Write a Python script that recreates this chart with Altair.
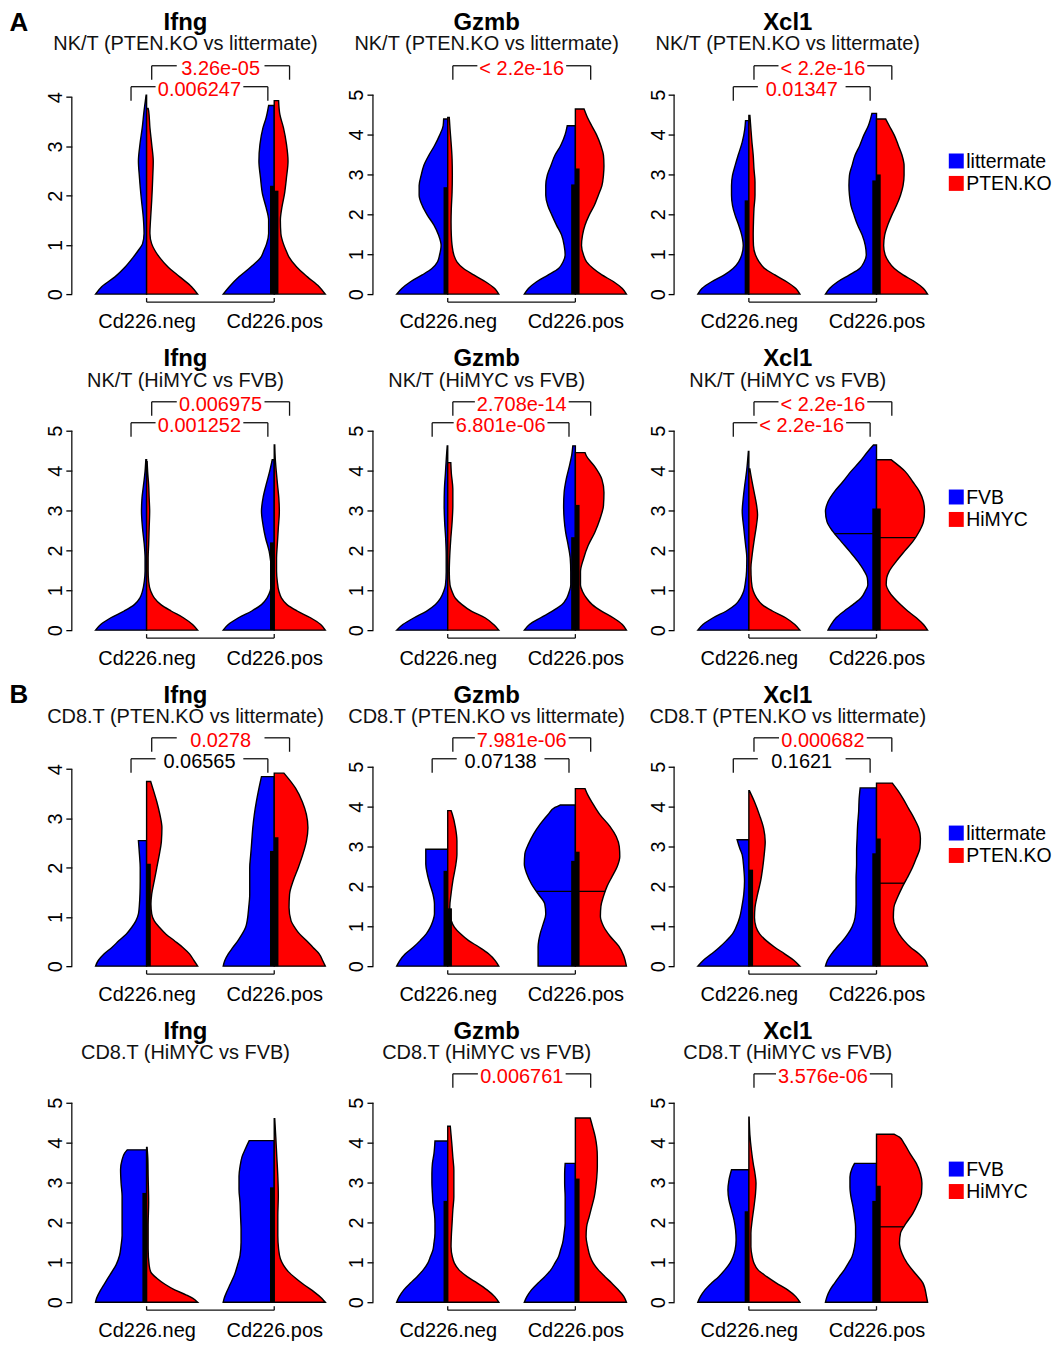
import altair as alt
import pandas as pd
import numpy as np

FONT = "Liberation Sans"
BLUE, RED = "#0000FF", "#FF0000"

GROUP_LABELS = ["Cd226.neg", "Cd226.pos"]
GROUP_POS = [1, 2]
GENES = ["Ifng", "Gzmb", "Xcl1"]
SUBTITLES = ["NK/T (PTEN.KO vs littermate)", "NK/T (HiMYC vs FVB)",
             "CD8.T (PTEN.KO vs littermate)", "CD8.T (HiMYC vs FVB)"]
LEGEND_LABELS = [["littermate", "PTEN.KO"], ["FVB", "HiMYC"],
                 ["littermate", "PTEN.KO"], ["FVB", "HiMYC"]]
PANEL_TAGS = ["A", None, "B", None]
Y_MAX = [[4.05, 5, 5], [5, 5, 5], [4.05, 5, 5], [5, 5, 5]]
Y_TICK_TOP = [[4, 5, 5], [5, 5, 5], [4, 5, 5], [5, 5, 5]]
P_UPPER = [["3.26e-05", "< 2.2e-16", "< 2.2e-16"],
           ["0.006975", "2.708e-14", "< 2.2e-16"],
           ["0.0278", "7.981e-06", "0.000682"],
           [None, "0.006761", "3.576e-06"]]
P_LOWER = [["0.006247", None, "0.01347"],
           ["0.001252", "6.801e-06", "< 2.2e-16"],
           ["0.06565", "0.07138", "0.1621"],
           [None, None, None]]

# violin half profiles: (expression level, relative half width)
IFNG_NK_PTEN = dict(
    negL=[(0, 1.0), (0.15, 0.88), (0.35, 0.62), (0.55, 0.42), (0.75, 0.26), (0.89, 0.16), (1.02, 0.08), (1.23, 0.05), (1.56, 0.065), (1.9, 0.1), (2.37, 0.14), (2.7, 0.16), (3.04, 0.13), (3.38, 0.085), (3.72, 0.05), (3.92, 0.025), (4.04, 0.01)],
    negR=[(0, 1.0), (0.15, 0.88), (0.35, 0.65), (0.55, 0.42), (0.75, 0.25), (0.89, 0.16), (1.02, 0.1), (1.23, 0.065), (1.56, 0.08), (1.9, 0.1), (2.37, 0.12), (2.7, 0.13), (3.04, 0.1), (3.38, 0.065), (3.72, 0.04), (3.77, 0.03)],
    posL=[(0, 1.0), (0.15, 0.88), (0.35, 0.69), (0.55, 0.46), (0.75, 0.26), (0.89, 0.2), (1.02, 0.15), (1.23, 0.11), (1.5, 0.11), (1.76, 0.16), (2.03, 0.23), (2.37, 0.27), (2.7, 0.3), (3.04, 0.28), (3.38, 0.22), (3.58, 0.16), (3.83, 0.11)],
    posR=[(0, 1.0), (0.15, 0.88), (0.35, 0.65), (0.55, 0.44), (0.75, 0.29), (0.89, 0.23), (1.02, 0.18), (1.23, 0.13), (1.5, 0.12), (1.76, 0.15), (2.03, 0.2), (2.37, 0.24), (2.7, 0.27), (3.04, 0.24), (3.38, 0.18), (3.65, 0.11), (3.93, 0.085)],
)
GZMB_NK_PTEN = dict(
    negL=[(0, 1.0), (0.14, 0.9), (0.31, 0.73), (0.48, 0.5), (0.64, 0.31), (0.81, 0.2), (0.98, 0.16), (1.22, 0.13), (1.48, 0.18), (1.73, 0.27), (1.98, 0.4), (2.22, 0.5), (2.48, 0.56), (2.72, 0.56), (2.98, 0.52), (3.22, 0.47), (3.48, 0.37), (3.72, 0.26), (3.98, 0.16), (4.22, 0.09), (4.39, 0.08)],
    negR=[(0, 1.0), (0.14, 0.92), (0.31, 0.74), (0.48, 0.51), (0.64, 0.31), (0.81, 0.18), (0.98, 0.12), (1.22, 0.085), (1.48, 0.07), (1.81, 0.065), (2.14, 0.07), (2.56, 0.085), (2.98, 0.09), (3.39, 0.085), (3.81, 0.065), (4.14, 0.045), (4.43, 0.03)],
    posL=[(0, 1.0), (0.14, 0.92), (0.31, 0.76), (0.48, 0.53), (0.64, 0.33), (0.81, 0.24), (0.98, 0.2), (1.22, 0.22), (1.48, 0.27), (1.73, 0.37), (1.98, 0.46), (2.22, 0.54), (2.48, 0.58), (2.72, 0.58), (2.98, 0.55), (3.22, 0.48), (3.48, 0.4), (3.72, 0.29), (4.0, 0.2), (4.22, 0.16)],
    posR=[(0, 1.0), (0.14, 0.92), (0.31, 0.75), (0.48, 0.52), (0.64, 0.35), (0.81, 0.22), (0.98, 0.16), (1.22, 0.12), (1.48, 0.14), (1.73, 0.19), (1.98, 0.27), (2.22, 0.37), (2.48, 0.45), (2.72, 0.52), (2.98, 0.55), (3.22, 0.56), (3.48, 0.55), (3.72, 0.5), (3.98, 0.42), (4.22, 0.32), (4.48, 0.22), (4.64, 0.17)],
)
XCL1_NK_PTEN = dict(
    negL=[(0, 1.0), (0.14, 0.92), (0.31, 0.73), (0.48, 0.48), (0.64, 0.31), (0.81, 0.2), (0.98, 0.14), (1.22, 0.11), (1.48, 0.14), (1.73, 0.2), (1.98, 0.27), (2.22, 0.32), (2.48, 0.34), (2.72, 0.34), (2.98, 0.32), (3.22, 0.27), (3.48, 0.21), (3.81, 0.13), (4.14, 0.08), (4.35, 0.065)],
    negR=[(0, 1.0), (0.14, 0.92), (0.31, 0.74), (0.48, 0.51), (0.64, 0.31), (0.81, 0.2), (0.98, 0.13), (1.22, 0.09), (1.48, 0.085), (1.81, 0.09), (2.14, 0.1), (2.48, 0.12), (2.81, 0.12), (3.14, 0.1), (3.48, 0.085), (3.81, 0.06), (4.14, 0.04), (4.48, 0.02)],
    posL=[(0, 1.0), (0.14, 0.92), (0.31, 0.76), (0.48, 0.53), (0.64, 0.33), (0.81, 0.24), (0.98, 0.2), (1.22, 0.22), (1.48, 0.28), (1.73, 0.37), (1.98, 0.44), (2.22, 0.5), (2.48, 0.53), (2.72, 0.54), (2.98, 0.53), (3.22, 0.48), (3.48, 0.42), (3.72, 0.33), (3.98, 0.25), (4.22, 0.16), (4.53, 0.09)],
    posR=[(0, 1.0), (0.14, 0.92), (0.31, 0.75), (0.48, 0.52), (0.64, 0.35), (0.81, 0.24), (0.98, 0.17), (1.22, 0.14), (1.48, 0.16), (1.73, 0.22), (1.98, 0.3), (2.22, 0.39), (2.48, 0.47), (2.72, 0.52), (2.98, 0.54), (3.22, 0.54), (3.48, 0.5), (3.72, 0.43), (3.98, 0.35), (4.22, 0.25), (4.39, 0.18)],
)
IFNG_NK_MYC = dict(
    negL=[(0, 1.0), (0.14, 0.9), (0.31, 0.7), (0.48, 0.44), (0.64, 0.24), (0.81, 0.13), (0.98, 0.08), (1.22, 0.045), (1.48, 0.03), (1.81, 0.03), (2.14, 0.045), (2.56, 0.08), (2.98, 0.1), (3.31, 0.09), (3.64, 0.06), (3.98, 0.03), (4.27, 0.015)],
    negR=[(0, 1.0), (0.14, 0.9), (0.31, 0.72), (0.48, 0.48), (0.64, 0.28), (0.81, 0.15), (0.98, 0.08), (1.22, 0.04), (1.48, 0.03), (1.81, 0.03), (2.14, 0.04), (2.56, 0.05), (2.98, 0.06), (3.31, 0.05), (3.64, 0.04), (3.98, 0.02), (4.22, 0.01)],
    posL=[(0, 1.0), (0.14, 0.9), (0.31, 0.7), (0.48, 0.44), (0.64, 0.25), (0.81, 0.14), (0.98, 0.08), (1.22, 0.05), (1.48, 0.05), (1.73, 0.07), (1.98, 0.1), (2.31, 0.17), (2.64, 0.22), (2.98, 0.25), (3.31, 0.22), (3.64, 0.16), (3.98, 0.09), (4.27, 0.04)],
    posR=[(0, 1.0), (0.14, 0.91), (0.31, 0.71), (0.48, 0.45), (0.64, 0.25), (0.81, 0.14), (0.98, 0.09), (1.22, 0.06), (1.48, 0.045), (1.81, 0.045), (2.14, 0.06), (2.56, 0.08), (2.98, 0.1), (3.31, 0.09), (3.64, 0.065), (3.98, 0.04), (4.3, 0.02), (4.64, 0.01)],
)
GZMB_NK_MYC = dict(
    negL=[(0, 1.0), (0.14, 0.88), (0.31, 0.66), (0.47, 0.42), (0.64, 0.24), (0.8, 0.14), (0.97, 0.08), (1.13, 0.045), (1.46, 0.03), (1.88, 0.03), (2.29, 0.04), (2.7, 0.06), (3.12, 0.07), (3.53, 0.065), (3.94, 0.045), (4.36, 0.025), (4.62, 0.01)],
    negR=[(0, 1.0), (0.14, 0.9), (0.31, 0.73), (0.47, 0.47), (0.64, 0.28), (0.8, 0.15), (0.97, 0.085), (1.13, 0.045), (1.46, 0.03), (1.88, 0.04), (2.29, 0.06), (2.7, 0.085), (3.12, 0.1), (3.53, 0.1), (3.94, 0.07), (4.2, 0.06)],
    posL=[(0, 1.0), (0.14, 0.9), (0.31, 0.68), (0.47, 0.46), (0.64, 0.26), (0.8, 0.17), (0.97, 0.12), (1.13, 0.09), (1.46, 0.09), (1.79, 0.1), (2.12, 0.14), (2.45, 0.19), (2.78, 0.22), (3.12, 0.23), (3.45, 0.22), (3.78, 0.18), (4.1, 0.12), (4.4, 0.07), (4.62, 0.05)],
    posR=[(0, 1.0), (0.14, 0.92), (0.31, 0.74), (0.47, 0.52), (0.64, 0.33), (0.8, 0.22), (0.97, 0.14), (1.13, 0.1), (1.46, 0.1), (1.79, 0.16), (2.12, 0.25), (2.45, 0.38), (2.78, 0.48), (3.12, 0.55), (3.45, 0.56), (3.78, 0.52), (4.1, 0.38), (4.36, 0.22), (4.45, 0.19)],
)
XCL1_NK_MYC = dict(
    negL=[(0, 1.0), (0.14, 0.9), (0.31, 0.7), (0.48, 0.44), (0.64, 0.26), (0.81, 0.16), (0.98, 0.1), (1.22, 0.065), (1.48, 0.045), (1.81, 0.04), (2.14, 0.065), (2.56, 0.1), (2.98, 0.13), (3.31, 0.11), (3.64, 0.08), (3.98, 0.045), (4.48, 0.01)],
    negR=[(0, 1.0), (0.14, 0.9), (0.31, 0.72), (0.48, 0.46), (0.64, 0.26), (0.81, 0.15), (0.98, 0.085), (1.22, 0.05), (1.56, 0.04), (1.89, 0.065), (2.22, 0.1), (2.64, 0.15), (2.89, 0.17), (3.14, 0.15), (3.48, 0.1), (3.81, 0.05), (4.04, 0.02)],
    posL=[(0, 0.95), (0.14, 0.89), (0.31, 0.79), (0.48, 0.63), (0.64, 0.46), (0.81, 0.3), (0.98, 0.22), (1.14, 0.17), (1.31, 0.18), (1.48, 0.24), (1.73, 0.37), (1.98, 0.53), (2.22, 0.69), (2.48, 0.86), (2.72, 0.97), (2.98, 1.0), (3.22, 0.95), (3.48, 0.82), (3.72, 0.66), (3.98, 0.5), (4.22, 0.33), (4.48, 0.17), (4.64, 0.06)],
    posR=[(0, 1.0), (0.14, 0.92), (0.31, 0.78), (0.48, 0.61), (0.64, 0.47), (0.81, 0.34), (0.98, 0.24), (1.14, 0.19), (1.31, 0.2), (1.48, 0.25), (1.73, 0.39), (1.98, 0.55), (2.22, 0.71), (2.48, 0.84), (2.72, 0.92), (2.98, 0.94), (3.22, 0.92), (3.48, 0.84), (3.72, 0.71), (3.98, 0.56), (4.27, 0.29)],
)
IFNG_CD8_PTEN = dict(
    negL=[(0, 1.0), (0.11, 0.95), (0.25, 0.83), (0.38, 0.68), (0.52, 0.54), (0.65, 0.4), (0.79, 0.29), (0.92, 0.21), (1.06, 0.16), (1.26, 0.14), (1.46, 0.13), (1.73, 0.125), (2.0, 0.125), (2.27, 0.14), (2.55, 0.16)],
    negR=[(0, 1.0), (0.11, 0.93), (0.25, 0.84), (0.38, 0.71), (0.52, 0.54), (0.65, 0.38), (0.79, 0.25), (0.92, 0.15), (1.06, 0.1), (1.26, 0.085), (1.46, 0.1), (1.73, 0.15), (2.0, 0.2), (2.27, 0.25), (2.54, 0.29), (2.81, 0.3), (3.08, 0.26), (3.34, 0.2), (3.55, 0.14), (3.75, 0.08)],
    posL=[(0, 1.0), (0.11, 0.97), (0.25, 0.9), (0.38, 0.81), (0.52, 0.71), (0.65, 0.63), (0.79, 0.56), (0.92, 0.53), (1.19, 0.5), (1.46, 0.48), (1.73, 0.48), (2.0, 0.48), (2.27, 0.46), (2.54, 0.44), (2.81, 0.42), (3.08, 0.39), (3.34, 0.35), (3.61, 0.3), (3.85, 0.25)],
    posR=[(0, 1.0), (0.11, 0.95), (0.25, 0.88), (0.38, 0.76), (0.52, 0.63), (0.65, 0.5), (0.79, 0.4), (0.92, 0.33), (1.19, 0.29), (1.46, 0.3), (1.73, 0.37), (2.0, 0.47), (2.27, 0.56), (2.54, 0.63), (2.81, 0.66), (3.08, 0.63), (3.34, 0.55), (3.61, 0.42), (3.92, 0.19)],
)
GZMB_CD8_PTEN = dict(
    negL=[(0, 1.0), (0.14, 0.94), (0.31, 0.83), (0.48, 0.67), (0.64, 0.54), (0.81, 0.42), (0.98, 0.34), (1.14, 0.29), (1.31, 0.26), (1.56, 0.26), (1.81, 0.29), (2.06, 0.35), (2.31, 0.4), (2.56, 0.43), (2.81, 0.43), (2.93, 0.43)],
    negR=[(0, 1.0), (0.14, 0.93), (0.31, 0.8), (0.48, 0.61), (0.64, 0.41), (0.81, 0.25), (0.98, 0.13), (1.14, 0.07), (1.31, 0.045), (1.48, 0.04), (1.81, 0.065), (2.14, 0.1), (2.48, 0.15), (2.81, 0.18), (3.14, 0.18), (3.48, 0.15), (3.81, 0.09), (3.9, 0.065)],
    posL=[(0, 0.73), (0.48, 0.73), (0.81, 0.69), (1.06, 0.63), (1.31, 0.58), (1.56, 0.6), (1.81, 0.73), (2.06, 0.86), (2.31, 0.95), (2.56, 1.0), (2.81, 0.99), (3.06, 0.92), (3.31, 0.82), (3.56, 0.69), (3.81, 0.53), (3.98, 0.4), (4.04, 0.3)],
    posR=[(0, 1.0), (0.25, 0.95), (0.5, 0.85), (0.75, 0.68), (1.0, 0.55), (1.25, 0.49), (1.5, 0.5), (1.75, 0.55), (2.0, 0.62), (2.25, 0.72), (2.5, 0.82), (2.75, 0.87), (3.0, 0.86), (3.25, 0.8), (3.5, 0.68), (3.8, 0.48), (4.1, 0.33), (4.3, 0.24), (4.45, 0.19)],
)
XCL1_CD8_PTEN = dict(
    negL=[(0, 1.0), (0.15, 0.89), (0.31, 0.73), (0.48, 0.57), (0.64, 0.44), (0.81, 0.32), (0.98, 0.25), (1.22, 0.18), (1.47, 0.14), (1.8, 0.1), (2.13, 0.085), (2.46, 0.1), (2.79, 0.13), (2.96, 0.18), (3.17, 0.23)],
    negR=[(0, 1.0), (0.15, 0.88), (0.31, 0.7), (0.48, 0.5), (0.64, 0.34), (0.81, 0.21), (0.98, 0.14), (1.22, 0.11), (1.47, 0.12), (1.8, 0.17), (2.13, 0.23), (2.46, 0.27), (2.79, 0.3), (3.12, 0.32), (3.45, 0.29), (3.78, 0.21), (4.12, 0.11), (4.4, 0.01)],
    posL=[(0, 1.0), (0.15, 0.96), (0.31, 0.88), (0.48, 0.77), (0.64, 0.66), (0.81, 0.56), (0.98, 0.48), (1.22, 0.42), (1.55, 0.4), (1.88, 0.4), (2.21, 0.4), (2.55, 0.39), (2.88, 0.39), (3.21, 0.38), (3.54, 0.37), (3.87, 0.35), (4.2, 0.34), (4.47, 0.32)],
    posR=[(0, 1.0), (0.15, 0.95), (0.31, 0.83), (0.48, 0.66), (0.64, 0.54), (0.81, 0.44), (0.98, 0.37), (1.22, 0.33), (1.47, 0.34), (1.72, 0.41), (1.97, 0.5), (2.21, 0.6), (2.46, 0.7), (2.71, 0.78), (2.96, 0.85), (3.21, 0.86), (3.45, 0.83), (3.7, 0.74), (3.95, 0.63), (4.2, 0.52), (4.4, 0.42), (4.59, 0.31)],
)
IFNG_CD8_MYC = dict(
    negL=[(0, 1.0), (0.1, 0.98), (0.26, 0.92), (0.43, 0.84), (0.68, 0.72), (0.93, 0.6), (1.17, 0.53), (1.42, 0.5), (1.67, 0.48), (2.0, 0.48), (2.33, 0.48), (2.66, 0.48), (2.99, 0.5), (3.32, 0.51), (3.57, 0.48), (3.74, 0.43), (3.82, 0.38)],
    negR=[(0, 1.0), (0.1, 0.9), (0.18, 0.78), (0.31, 0.55), (0.45, 0.36), (0.6, 0.2), (0.76, 0.08), (0.93, 0.05), (1.34, 0.03), (1.92, 0.03), (2.5, 0.04), (3.16, 0.03), (3.57, 0.025), (3.88, 0.01)],
    posL=[(0, 1.0), (0.1, 0.98), (0.26, 0.93), (0.43, 0.87), (0.68, 0.78), (0.93, 0.72), (1.17, 0.67), (1.5, 0.65), (1.83, 0.65), (2.17, 0.66), (2.5, 0.67), (2.83, 0.69), (3.16, 0.69), (3.4, 0.67), (3.65, 0.63), (3.86, 0.56), (4.05, 0.49)],
    posR=[(0, 1.0), (0.1, 0.93), (0.26, 0.78), (0.43, 0.59), (0.6, 0.42), (0.76, 0.28), (0.93, 0.18), (1.09, 0.12), (1.34, 0.085), (1.67, 0.07), (2.17, 0.07), (2.66, 0.08), (3.16, 0.07), (3.65, 0.05), (4.15, 0.03), (4.6, 0.01)],
)
GZMB_CD8_MYC = dict(
    negL=[(0, 1.0), (0.14, 0.95), (0.31, 0.86), (0.48, 0.73), (0.64, 0.6), (0.81, 0.48), (0.98, 0.39), (1.14, 0.34), (1.31, 0.29), (1.48, 0.27), (1.73, 0.25), (1.98, 0.25), (2.22, 0.26), (2.48, 0.29), (2.72, 0.3), (2.98, 0.31), (3.22, 0.31), (3.48, 0.3), (3.72, 0.27), (4.04, 0.25)],
    negR=[(0, 1.0), (0.14, 0.92), (0.31, 0.77), (0.48, 0.58), (0.64, 0.38), (0.81, 0.22), (0.98, 0.13), (1.14, 0.09), (1.39, 0.065), (1.64, 0.07), (1.98, 0.085), (2.31, 0.1), (2.64, 0.12), (2.98, 0.12), (3.31, 0.12), (3.64, 0.1), (3.98, 0.08), (4.41, 0.05)],
    posL=[(0, 1.0), (0.14, 0.95), (0.31, 0.86), (0.48, 0.73), (0.64, 0.6), (0.81, 0.48), (0.98, 0.4), (1.14, 0.33), (1.31, 0.29), (1.48, 0.25), (1.73, 0.22), (1.98, 0.2), (2.31, 0.2), (2.64, 0.2), (2.98, 0.21), (3.22, 0.21), (3.48, 0.2)],
    posR=[(0, 1.0), (0.14, 0.95), (0.31, 0.84), (0.48, 0.71), (0.64, 0.58), (0.81, 0.45), (0.98, 0.35), (1.14, 0.29), (1.39, 0.24), (1.64, 0.21), (1.89, 0.22), (2.14, 0.27), (2.39, 0.32), (2.64, 0.37), (2.89, 0.4), (3.14, 0.42), (3.39, 0.43), (3.64, 0.43), (3.89, 0.42), (4.14, 0.39), (4.39, 0.34), (4.62, 0.29)],
)
XCL1_CD8_MYC = dict(
    negL=[(0, 1.0), (0.14, 0.95), (0.31, 0.86), (0.48, 0.73), (0.64, 0.59), (0.81, 0.47), (0.98, 0.37), (1.14, 0.31), (1.31, 0.27), (1.56, 0.25), (1.81, 0.26), (2.06, 0.29), (2.31, 0.34), (2.56, 0.39), (2.81, 0.41), (3.06, 0.39), (3.32, 0.34)],
    negR=[(0, 1.0), (0.14, 0.92), (0.31, 0.76), (0.48, 0.54), (0.64, 0.35), (0.81, 0.18), (0.98, 0.1), (1.14, 0.065), (1.39, 0.04), (1.73, 0.04), (2.06, 0.065), (2.39, 0.1), (2.72, 0.13), (2.98, 0.14), (3.22, 0.12), (3.48, 0.085), (3.81, 0.05), (4.2, 0.02), (4.64, 0.005)],
    posL=[(0, 1.0), (0.14, 0.97), (0.31, 0.91), (0.48, 0.82), (0.64, 0.73), (0.81, 0.63), (0.98, 0.55), (1.14, 0.48), (1.39, 0.43), (1.64, 0.41), (1.89, 0.41), (2.14, 0.43), (2.39, 0.46), (2.64, 0.5), (2.89, 0.52), (3.14, 0.52), (3.35, 0.48), (3.48, 0.43)],
    posR=[(0, 1.0), (0.14, 0.98), (0.48, 0.91), (0.72, 0.76), (0.98, 0.6), (1.22, 0.5), (1.48, 0.45), (1.73, 0.47), (1.98, 0.58), (2.22, 0.71), (2.48, 0.81), (2.72, 0.88), (2.98, 0.89), (3.22, 0.86), (3.48, 0.78), (3.72, 0.66), (3.98, 0.54), (4.14, 0.45), (4.21, 0.35)],
)
PANELS = [[IFNG_NK_PTEN, GZMB_NK_PTEN, XCL1_NK_PTEN],
          [IFNG_NK_MYC, GZMB_NK_MYC, XCL1_NK_MYC],
          [IFNG_CD8_PTEN, GZMB_CD8_PTEN, XCL1_CD8_PTEN],
          [IFNG_CD8_MYC, GZMB_CD8_MYC, XCL1_CD8_MYC]]

# upper quartile of the black box per half: negL, negR, posL, posR
BOX_Q3 = [[[0, 0, 2.2, 2.1], [2.68, 0, 2.75, 3.15], [2.35, 0, 2.85, 3.0]],
          [[0, 0, 2.2, 0], [0, 0, 2.33, 3.14], [0, 0, 3.05, 3.05]],
          [[0, 2.08, 2.34, 2.62], [2.39, 1.45, 2.64, 2.87], [0, 2.42, 2.83, 3.2]],
          [[2.74, 0, 2.88, 0], [2.54, 0, 0, 3.1], [2.28, 0, 2.54, 2.92]]]
MEDIANS = {(1, 2): [("posL", 2.42), ("posR", 2.32)],
           (2, 1): [("posL", 1.875), ("posR", 1.875)],
           (2, 2): [("posR", 2.08)],
           (3, 2): [("posR", 1.89)]}

# ---------------- geometry / style ----------------
W, H = 228, 216
XDOM = [0.4141, 2.1953]
HALF_MAX = 0.4
BOX_W = 0.033
UPPER_X = (1.04, 2.12)
LOWER_X = (0.878, 1.95)
AW = {'.': .278, '-': .333, '<': .584, ' ': .278, 'e': .556}


def text_px(s, fs=20):
    return sum(AW.get(ch, .556) for ch in s) * fs


def is_sig(s):
    return float(s.replace('<', '').strip()) < 0.05


label_expr = "datum.value == 1 ? '%s' : '%s'" % (GROUP_LABELS[0], GROUP_LABELS[1])


def panel(r, c):
    M = Y_MAX[r][c]
    ydom = [-0.04 * M, 1.04 * M]
    ky = H / (ydom[1] - ydom[0])
    kx = W / (XDOM[1] - XDOM[0])
    xs = alt.Scale(domain=XDOM, nice=False, zero=False)
    ys = alt.Scale(domain=ydom, nice=False, zero=False)
    xa = alt.Axis(values=GROUP_POS, labelExpr=label_expr, domain=False, ticks=False,
                  labelFontSize=20, labelFont=FONT, labelColor="black", labelPadding=10,
                  labelBaseline="top", labelAlign="center", grid=False, title=None,
                  labelFlush=False, labelOverlap=False)
    ya = alt.Axis(values=list(range(Y_TICK_TOP[r][c] + 1)), labelAngle=270, labelAlign="center",
                  labelBaseline="alphabetic", domain=False, ticks=True, tickSize=6,
                  tickColor="black", tickWidth=1.3, labelFontSize=20, labelFont=FONT,
                  labelColor="black", labelPadding=4, grid=False, title=None,
                  labelFlush=False, labelOverlap=False)
    X = lambda: alt.X("x:Q", scale=xs, axis=xa)
    Y = lambda: alt.Y("y:Q", scale=ys, axis=ya)

    prof = PANELS[r][c]
    layers = []
    for key in ["negL", "negR", "posL", "posR"]:
        ctr = GROUP_POS[0] if key.startswith("neg") else GROUP_POS[1]
        rows = []
        for yv, w in prof[key]:
            hw = HALF_MAX * w
            if key.endswith("L"):
                rows.append(dict(x=ctr - hw, x2=ctr, y=yv))
            else:
                rows.append(dict(x=ctr, x2=ctr + hw, y=yv))
        col = BLUE if key.endswith("L") else RED
        layers.append(alt.Chart(pd.DataFrame(rows)).mark_area(
            orient="horizontal", interpolate="monotone", stroke="black", strokeWidth=1.4,
            fill=col, fillOpacity=1, clip=False).encode(x=X(), x2="x2:Q", y=Y()))

    # median lines
    mrows = []
    for key, ym in MEDIANS.get((r, c), []):
        ctr = GROUP_POS[0] if key.startswith("neg") else GROUP_POS[1]
        ys_, ws_ = zip(*prof[key])
        hw = HALF_MAX * float(np.interp(ym, ys_, ws_))
        if key.endswith("L"):
            mrows.append(dict(x=ctr - hw, x2=ctr, y=ym, y2=ym))
        else:
            mrows.append(dict(x=ctr, x2=ctr + hw, y=ym, y2=ym))
    if mrows:
        layers.append(alt.Chart(pd.DataFrame(mrows)).mark_rule(color="black", strokeWidth=1.3, clip=False)
                      .encode(x=X(), x2="x2:Q", y=Y(), y2="y2:Q"))
    # boxes
    brow = []
    for i, key in enumerate(["negL", "negR", "posL", "posR"]):
        q3 = BOX_Q3[r][c][i]
        if q3 <= 0:
            continue
        ctr = GROUP_POS[0] if key.startswith("neg") else GROUP_POS[1]
        if key.endswith("L"):
            brow.append(dict(x=ctr - BOX_W, x2=ctr, y=0, y2=q3))
        else:
            brow.append(dict(x=ctr, x2=ctr + BOX_W, y=0, y2=q3))
    if brow:
        layers.append(alt.Chart(pd.DataFrame(brow)).mark_rect(color="black", clip=False)
                      .encode(x=X(), x2="x2:Q", y=Y(), y2="y2:Q"))

    # axis lines (R style)
    lrows = [dict(x=XDOM[0], x2=XDOM[0], y=0, y2=Y_TICK_TOP[r][c]),
             dict(x=GROUP_POS[0], x2=GROUP_POS[1], y=ydom[0], y2=ydom[0]),
             dict(x=GROUP_POS[0], x2=GROUP_POS[0], y=ydom[0], y2=ydom[0] + 4 / ky),
             dict(x=GROUP_POS[1], x2=GROUP_POS[1], y=ydom[0], y2=ydom[0] + 4 / ky)]
    # p-value brackets
    trows = []
    for lab, (xa_, xb_), hpx in [(P_UPPER[r][c], UPPER_X, 229), (P_LOWER[r][c], LOWER_X, 208)]:
        if lab is None:
            continue
        yl = hpx / ky
        yt = (hpx - 14) / ky
        xc = (xa_ + xb_) / 2
        gap = max(text_px(lab) + 4, 88) / kx / 2
        lrows += [dict(x=xa_, x2=xa_, y=yt, y2=yl), dict(x=xb_, x2=xb_, y=yt, y2=yl),
                  dict(x=xa_, x2=xc - gap, y=yl, y2=yl), dict(x=xc + gap, x2=xb_, y=yl, y2=yl)]
        trows.append(dict(x=xc, y=(hpx - 3) / ky, label=lab, col=RED if is_sig(lab) else "black"))
    layers.append(alt.Chart(pd.DataFrame(lrows)).mark_rule(color="#111111", strokeWidth=1.3, clip=False)
                  .encode(x=X(), x2="x2:Q", y=Y(), y2="y2:Q"))
    if trows:
        layers.append(alt.Chart(pd.DataFrame(trows)).mark_text(fontSize=20, font=FONT, baseline="middle",
                                                               align="center", clip=False)
                      .encode(x=X(), y=Y(), text="label:N", color=alt.Color("col:N", scale=None)))

    # titles
    xmid = (XDOM[0] + XDOM[1]) / 2
    layers.append(alt.Chart(pd.DataFrame([dict(x=xmid, y=271.4 / ky, label=GENES[c])]))
                  .mark_text(fontSize=24, font=FONT, fontWeight="bold", baseline="middle", align="center",
                             color="black", clip=False)
                  .encode(x=X(), y=Y(), text="label:N"))
    layers.append(alt.Chart(pd.DataFrame([dict(x=xmid, y=250.3 / ky, label=SUBTITLES[r])]))
                  .mark_text(fontSize=20, font=FONT, baseline="middle", align="center",
                             color="#111111", clip=False)
                  .encode(x=X(), y=Y(), text="label:N"))
    if c == 0 and PANEL_TAGS[r]:
        layers.append(alt.Chart(pd.DataFrame([dict(x=GROUP_POS[0] - 128 / kx, y=271.9 / ky, label=PANEL_TAGS[r])]))
                      .mark_text(fontSize=26, font=FONT, fontWeight="bold", baseline="middle", align="center",
                                 color="black", clip=False)
                      .encode(x=X(), y=Y(), text="label:N"))
    if c == 2:
        sq = pd.DataFrame([dict(x=XDOM[0] + 283 / kx, y=133.5 / ky, col=BLUE),
                           dict(x=XDOM[0] + 283 / kx, y=111 / ky, col=RED)])
        layers.append(alt.Chart(sq).mark_square(size=225, opacity=1, filled=True, clip=False)
                      .encode(x=X(), y=Y(), color=alt.Color("col:N", scale=None)))
        lt = pd.DataFrame([dict(x=XDOM[0] + 293 / kx, y=132.5 / ky, label=LEGEND_LABELS[r][0]),
                           dict(x=XDOM[0] + 293 / kx, y=110 / ky, label=LEGEND_LABELS[r][1])])
        layers.append(alt.Chart(lt).mark_text(fontSize=19.5, font=FONT, baseline="middle", align="left",
                                              color="black", clip=False)
                      .encode(x=X(), y=Y(), text="label:N"))
    return alt.layer(*layers).properties(width=W, height=H)


panels = [panel(r, c) for r in range(4) for c in range(3)]
chart = alt.concat(*panels, columns=3, spacing={"row": 121, "column": 74}, bounds="flush").properties(
    padding={"left": 1, "top": 0, "right": 0, "bottom": 0}
).configure(font=FONT).configure_view(stroke="transparent", strokeWidth=0)

chart.save("out.html", embed_options={"renderer": "svg", "actions": False})
